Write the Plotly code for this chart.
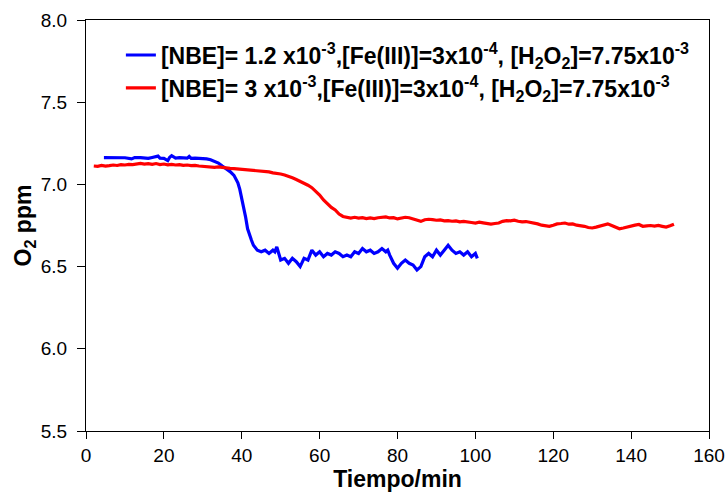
import plotly.graph_objects as go

# Blue series: [NBE]=1.2e-3
blue_t = [4.6, 6, 8, 10, 11.7, 12.5, 14, 16, 17, 18.5, 19, 20, 21, 21.5, 22, 23, 24, 26, 26.5, 27, 28,
          30, 31, 32, 33, 34, 35, 36, 37, 38, 39, 39.5, 40, 40.5, 41, 41.5, 42, 42.5, 43, 44, 45, 46, 47,
          48, 48.5, 49, 49.5, 50, 51, 52, 53, 54, 55, 56, 57, 58, 59, 60, 61, 62, 63, 64, 65, 66, 67, 68,
          69, 70, 71, 72, 73, 74, 75, 76, 77, 77.5, 78, 78.5, 79, 80, 81, 82, 83, 84, 85, 86, 87, 88, 89,
          90, 91, 92, 93, 94, 95, 96, 97, 98, 99, 100, 100.5]
blue_o2 = [7.163, 7.163, 7.163, 7.162, 7.155, 7.163, 7.163, 7.158, 7.164, 7.172, 7.160, 7.158, 7.145,
           7.165, 7.175, 7.160, 7.163, 7.160, 7.170, 7.158, 7.160,
           7.158, 7.155, 7.150, 7.142, 7.130, 7.112, 7.095, 7.078, 7.055, 7.010, 6.97, 6.92, 6.87, 6.80,
           6.73, 6.69, 6.66, 6.63, 6.60, 6.59, 6.60, 6.58,
           6.60, 6.59, 6.62, 6.58, 6.54, 6.55, 6.52, 6.55, 6.53, 6.50, 6.55, 6.54, 6.60, 6.57, 6.59, 6.56,
           6.58, 6.57, 6.59, 6.58, 6.56, 6.57, 6.56,
           6.59, 6.58, 6.61, 6.59, 6.60, 6.58, 6.59, 6.61, 6.59, 6.60, 6.57, 6.54, 6.52, 6.49, 6.52, 6.54,
           6.52, 6.51, 6.48, 6.50, 6.56, 6.58, 6.56,
           6.60, 6.57, 6.60, 6.63, 6.60, 6.58, 6.59, 6.57, 6.59, 6.56, 6.58, 6.55]

# Red series: [NBE]=3e-3
red_t = [2, 3, 4, 5, 6, 7, 8, 9, 10, 11, 12, 13, 14, 15, 16, 17, 18, 19, 20, 21, 22, 23, 24, 25, 26, 27,
         28, 29, 30, 31, 32, 33, 34, 35, 36, 37, 38, 39, 40, 41, 42, 43, 44, 45, 46, 47, 48, 49, 50, 51,
         52, 53, 54, 55, 56, 57, 58, 59, 60, 61, 62, 63, 64, 65, 66, 67, 68, 69, 70, 71, 72, 73, 74, 75,
         76, 77, 78, 79, 80, 81, 82, 83, 84, 85, 86, 87, 88, 89, 90, 91, 92, 93, 94, 95, 96, 97, 98, 99,
         100, 101, 102, 103, 104, 105, 106, 107, 108, 109, 110, 111, 112, 113, 114, 115, 116, 117, 118,
         119, 120, 121, 122, 123, 124, 125, 126, 127, 128, 129, 130, 131, 132, 133, 134, 135, 136, 137,
         138, 139, 140, 141, 142, 143, 144, 145, 146, 147, 148, 149, 150, 151]
red_o2 = [7.112, 7.110, 7.115, 7.111, 7.114, 7.118, 7.115, 7.120, 7.118, 7.122, 7.120, 7.125, 7.128,
          7.123, 7.126, 7.122, 7.127, 7.121, 7.124, 7.119, 7.122, 7.118, 7.120, 7.116, 7.118, 7.114,
          7.116, 7.112, 7.110, 7.106, 7.108, 7.104, 7.106, 7.102, 7.100, 7.098, 7.096, 7.094, 7.093,
          7.090, 7.090, 7.088, 7.085, 7.083, 7.080, 7.076, 7.070, 7.068, 7.063, 7.057,
          7.050, 7.040, 7.030, 7.020, 7.008, 6.995, 6.980, 6.960, 6.935, 6.905, 6.880, 6.860, 6.845,
          6.820, 6.805, 6.800, 6.795, 6.800, 6.795, 6.798, 6.792, 6.796, 6.792, 6.797,
          6.800, 6.802, 6.796, 6.798, 6.790, 6.795, 6.800, 6.797, 6.790, 6.783, 6.775, 6.785, 6.788,
          6.786, 6.782, 6.784, 6.778, 6.780, 6.776, 6.778, 6.772, 6.775, 6.770, 6.768,
          6.765, 6.770, 6.766, 6.762, 6.758, 6.762, 6.765, 6.775, 6.780, 6.778, 6.782, 6.776, 6.772,
          6.774, 6.770, 6.766, 6.760, 6.752, 6.748,
          6.745, 6.752, 6.760, 6.762, 6.765, 6.758, 6.760, 6.752, 6.750, 6.745, 6.738, 6.735, 6.740,
          6.748, 6.755, 6.760, 6.750, 6.738, 6.730,
          6.735, 6.742, 6.748, 6.752, 6.756, 6.745, 6.748, 6.750, 6.746, 6.750, 6.745, 6.740, 6.748, 6.758]

blue_name = "[NBE]= 1.2 x10<sup>-3</sup>,[Fe(III)]=3x10<sup>-4</sup>, [H<sub>2</sub>O<sub>2</sub>]=7.75x10<sup>-3</sup>"
red_name = "[NBE]= 3 x10<sup>-3</sup>,[Fe(III)]=3x10<sup>-4</sup>, [H<sub>2</sub>O<sub>2</sub>]=7.75x10<sup>-3</sup>"

x_ticks = [0, 20, 40, 60, 80, 100, 120, 140, 160]
y_ticks = [5.5, 6.0, 6.5, 7.0, 7.5, 8.0]

FONT = "Liberation Sans, Arial, sans-serif"

fig = go.Figure()
fig.add_trace(go.Scatter(x=blue_t, y=blue_o2, mode="lines", name=blue_name,
                         line=dict(color="#0000FF", width=3.2)))
fig.add_trace(go.Scatter(x=red_t, y=red_o2, mode="lines", name=red_name,
                         line=dict(color="#FF0000", width=3.2)))

fig.update_layout(
    width=726, height=492,
    margin=dict(l=86, r=17, t=20, b=61),
    paper_bgcolor="white", plot_bgcolor="white",
    font=dict(family=FONT, color="black"),
    showlegend=True,
    legend=dict(x=0.056, y=0.967, xanchor="left", yanchor="top",
                font=dict(size=23, family=FONT, weight="bold"),
                bgcolor="rgba(0,0,0,0)", tracegroupgap=0, itemwidth=30),
)
fig.update_xaxes(range=[0, 160], tickvals=x_ticks, ticktext=[str(v) for v in x_ticks],
                 showgrid=False, zeroline=False, showline=True, linecolor="black", linewidth=1,
                 mirror=True, ticks="outside", ticklen=7, tickcolor="black", automargin=False,
                 tickfont=dict(size=19),
                 title=dict(text="<b>Tiempo/min</b>", font=dict(size=23), standoff=6))
fig.update_yaxes(range=[5.5, 8.0], tickvals=y_ticks, ticktext=[f"{v:.1f}" for v in y_ticks],
                 showgrid=False, zeroline=False, showline=True, linecolor="black", linewidth=1,
                 mirror=True, ticks="outside", ticklen=8, tickcolor="black", automargin=False,
                 ticklabelstandoff=6,
                 tickfont=dict(size=19),
                 title=dict(text="<b>O<sub>2</sub> ppm</b>", font=dict(size=23), standoff=2))

fig.write_html("out.html", config={"displayModeBar": False},
               post_script="document.body.style.margin='0';")
